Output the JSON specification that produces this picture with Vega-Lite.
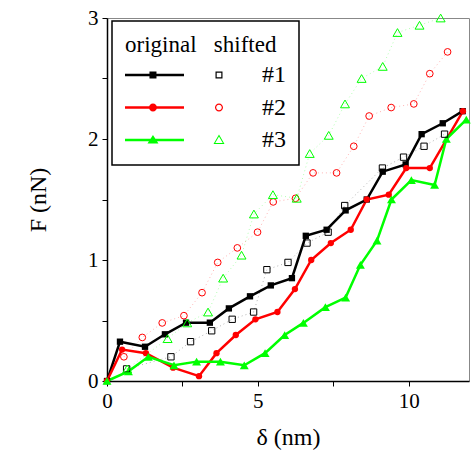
{
  "$schema": "https://vega.github.io/schema/vega-lite/v6.json",
  "width": 362,
  "height": 363,
  "autosize": "none",
  "padding": {"left": 107, "top": 18, "right": 7, "bottom": 73},
  "background": "white",
  "config": {
    "font": "Liberation Serif",
    "view": {"stroke": "#888888", "strokeWidth": 1},
    "axis": {
      "labelFont": "Liberation Serif", "labelFontSize": 21, "labelColor": "black",
      "titleFont": "Liberation Serif", "titleFontSize": 24, "titleFontWeight": "normal", "titleColor": "black",
      "domainColor": "black", "domainWidth": 1.5, "tickColor": "black", "tickSize": 5, "tickWidth": 1,
      "grid": false, "labelPadding": 4
    }
  },
  "data": {"values": [
    {"s":"#1","k":"o","x":0,"y":0},{"s":"#1","k":"o","x":0.43,"y":0.325},{"s":"#1","k":"o","x":1.26,"y":0.283},{"s":"#1","k":"o","x":1.92,"y":0.386},{"s":"#1","k":"o","x":2.62,"y":0.482},{"s":"#1","k":"o","x":3.41,"y":0.482},{"s":"#1","k":"o","x":4.04,"y":0.6},{"s":"#1","k":"o","x":4.74,"y":0.7},{"s":"#1","k":"o","x":5.43,"y":0.79},{"s":"#1","k":"o","x":6.13,"y":0.85},{"s":"#1","k":"o","x":6.59,"y":1.2},{"s":"#1","k":"o","x":7.28,"y":1.25},{"s":"#1","k":"o","x":7.91,"y":1.41},{"s":"#1","k":"o","x":8.61,"y":1.5},{"s":"#1","k":"o","x":9.14,"y":1.73},{"s":"#1","k":"o","x":9.9,"y":1.79},{"s":"#1","k":"o","x":10.43,"y":2.04},{"s":"#1","k":"o","x":11.13,"y":2.13},{"s":"#1","k":"o","x":11.79,"y":2.23},
    {"s":"#2","k":"o","x":0,"y":0},{"s":"#2","k":"o","x":0.5,"y":0.26},{"s":"#2","k":"o","x":1.29,"y":0.23},{"s":"#2","k":"o","x":2.19,"y":0.11},{"s":"#2","k":"o","x":3.05,"y":0.04},{"s":"#2","k":"o","x":3.63,"y":0.23},{"s":"#2","k":"o","x":4.27,"y":0.38},{"s":"#2","k":"o","x":4.92,"y":0.51},{"s":"#2","k":"o","x":5.65,"y":0.57},{"s":"#2","k":"o","x":6.23,"y":0.76},{"s":"#2","k":"o","x":6.77,"y":1.0},{"s":"#2","k":"o","x":7.42,"y":1.14},{"s":"#2","k":"o","x":8.08,"y":1.25},{"s":"#2","k":"o","x":8.61,"y":1.5},{"s":"#2","k":"o","x":9.34,"y":1.54},{"s":"#2","k":"o","x":9.92,"y":1.76},{"s":"#2","k":"o","x":10.7,"y":1.76},{"s":"#2","k":"o","x":11.8,"y":2.23},
    {"s":"#3","k":"o","x":0,"y":0},{"s":"#3","k":"o","x":0.71,"y":0.08},{"s":"#3","k":"o","x":1.37,"y":0.2},{"s":"#3","k":"o","x":2.22,"y":0.13},{"s":"#3","k":"o","x":2.97,"y":0.16},{"s":"#3","k":"o","x":3.76,"y":0.16},{"s":"#3","k":"o","x":4.55,"y":0.13},{"s":"#3","k":"o","x":5.24,"y":0.23},{"s":"#3","k":"o","x":5.89,"y":0.38},{"s":"#3","k":"o","x":6.51,"y":0.48},{"s":"#3","k":"o","x":7.24,"y":0.61},{"s":"#3","k":"o","x":7.91,"y":0.69},{"s":"#3","k":"o","x":8.4,"y":0.96},{"s":"#3","k":"o","x":8.95,"y":1.16},{"s":"#3","k":"o","x":9.43,"y":1.5},{"s":"#3","k":"o","x":10.09,"y":1.66},{"s":"#3","k":"o","x":10.86,"y":1.62},{"s":"#3","k":"o","x":11.25,"y":2.0},{"s":"#3","k":"o","x":11.91,"y":2.16},
    {"s":"#1","k":"s","x":0.65,"y":0.1},{"s":"#1","k":"s","x":2.12,"y":0.2},{"s":"#1","k":"s","x":2.77,"y":0.325},{"s":"#1","k":"s","x":3.47,"y":0.415},{"s":"#1","k":"s","x":4.15,"y":0.51},{"s":"#1","k":"s","x":4.86,"y":0.57},{"s":"#1","k":"s","x":5.3,"y":0.92},{"s":"#1","k":"s","x":6.0,"y":0.98},{"s":"#1","k":"s","x":6.63,"y":1.14},{"s":"#1","k":"s","x":7.33,"y":1.23},{"s":"#1","k":"s","x":7.88,"y":1.45},{"s":"#1","k":"s","x":9.13,"y":1.76},{"s":"#1","k":"s","x":9.83,"y":1.85},{"s":"#1","k":"s","x":10.51,"y":1.94},{"s":"#1","k":"s","x":11.19,"y":2.04},
    {"s":"#2","k":"s","x":0.56,"y":0.2},{"s":"#2","k":"s","x":1.17,"y":0.36},{"s":"#2","k":"s","x":1.83,"y":0.48},{"s":"#2","k":"s","x":2.55,"y":0.54},{"s":"#2","k":"s","x":3.15,"y":0.73},{"s":"#2","k":"s","x":3.67,"y":0.98},{"s":"#2","k":"s","x":4.32,"y":1.1},{"s":"#2","k":"s","x":4.99,"y":1.23},{"s":"#2","k":"s","x":5.51,"y":1.48},{"s":"#2","k":"s","x":6.25,"y":1.51},{"s":"#2","k":"s","x":6.83,"y":1.72},{"s":"#2","k":"s","x":7.61,"y":1.72},{"s":"#2","k":"s","x":8.18,"y":1.94},{"s":"#2","k":"s","x":8.69,"y":2.19},{"s":"#2","k":"s","x":9.42,"y":2.26},{"s":"#2","k":"s","x":10.17,"y":2.29},{"s":"#2","k":"s","x":10.7,"y":2.54},{"s":"#2","k":"s","x":11.29,"y":2.72},
    {"s":"#3","k":"s","x":0.67,"y":0.1},{"s":"#3","k":"s","x":2.01,"y":0.35},{"s":"#3","k":"s","x":2.66,"y":0.48},{"s":"#3","k":"s","x":3.35,"y":0.57},{"s":"#3","k":"s","x":3.85,"y":0.85},{"s":"#3","k":"s","x":4.46,"y":1.04},{"s":"#3","k":"s","x":4.87,"y":1.38},{"s":"#3","k":"s","x":5.5,"y":1.54},{"s":"#3","k":"s","x":6.29,"y":1.51},{"s":"#3","k":"s","x":6.72,"y":1.88},{"s":"#3","k":"s","x":7.35,"y":2.03},{"s":"#3","k":"s","x":7.89,"y":2.29},{"s":"#3","k":"s","x":8.44,"y":2.5},{"s":"#3","k":"s","x":9.14,"y":2.6},{"s":"#3","k":"s","x":9.63,"y":2.88},{"s":"#3","k":"s","x":10.36,"y":2.94},{"s":"#3","k":"s","x":11.06,"y":3.0}
  ]},
  "encoding": {
    "x": {"field": "x", "type": "quantitative", "title": "δ (nm)",
      "scale": {"domain": [0, 12], "nice": false},
      "axis": {"values": [0, 2.5, 5, 7.5, 10], "labelExpr": "datum.value % 5 === 0 ? format(datum.value, 'd') : ''", "titlePadding": 14, "labelFlush": false}},
    "y": {"field": "y", "type": "quantitative", "title": "F (nN)",
      "scale": {"domain": [0, 3], "nice": false},
      "axis": {"values": [0, 0.5, 1, 1.5, 2, 2.5, 3], "labelExpr": "datum.value % 1 === 0 ? format(datum.value, 'd') : ''", "titlePadding": 37, "labelFlush": false}},
    "color": {"field": "s", "type": "nominal", "title": "original\u00a0\u00a0 shifted",
      "scale": {"domain": ["#1", "#2", "#3"], "range": ["black", "#ff0000", "#00ff00"]},
      "legend": {
        "orient": "none", "legendX": 5, "legendY": 3, "padding": 13,
        "strokeColor": "black", "fillColor": "white",
        "symbolSize": 15876, "symbolOffset": 0, "labelOffset": 11, "rowPadding": 8.5, "titlePadding": 6,
        "clipHeight": 24,
        "labelFont": "Liberation Serif", "labelFontSize": 24, "labelColor": "black",
        "titleFont": "Liberation Serif", "titleFontSize": 23, "titleFontWeight": "normal", "titleColor": "black",
        "encode": {
          "legend": {"update": {"strokeWidth": {"value": 1.5}}},
          "symbols": {"update": {
            "shape": {"signal": "datum.value === '#1' ? 'M-1,-0.0198H-0.0635V0.0198H-1ZM-0.6116,-0.0556H-0.5004V0.0556H-0.6116ZM0.4364,-0.0556H0.5476V0.0556H0.4364ZM0.4555,-0.0365V0.0365H0.5285V-0.0365Z' : datum.value === '#2' ? 'M-1,-0.0198H-0.0635V0.0198H-1ZM-0.6195,0A0.0635,0.0635,0,1,1,-0.4925,0A0.0635,0.0635,0,1,1,-0.6195,0ZM0.4285,0A0.0635,0.0635,0,1,1,0.5555,0A0.0635,0.0635,0,1,1,0.4285,0ZM0.4476,0A0.0444,0.0444,0,1,0,0.5364,0A0.0444,0.0444,0,1,0,0.4476,0Z' : 'M-1,-0.0198H-0.0635V0.0198H-1ZM-0.556,-0.0794L-0.4687,0.0556L-0.6433,0.0556ZM0.492,-0.0873L0.5793,0.0635L0.4047,0.0635ZM0.492,-0.0556L0.4317,0.0476L0.5523,0.0476Z'"},
            "size": {"value": 15876},
            "fill": {"scale": "color", "field": "value"},
            "fillOpacity": {"value": 1},
            "opacity": {"value": 1},
            "strokeWidth": {"value": 0},
            "strokeOpacity": {"value": 0}
          }}
        }
      }}
  },
  "layer": [
    {"transform": [{"filter": "datum.k === 's'"}],
     "mark": {"type": "line", "strokeWidth": 1, "strokeDash": [1, 3], "opacity": 0.3},
     "encoding": {"detail": {"field": "s"}}},
    {"transform": [{"filter": "datum.k === 'o'"}],
     "mark": {"type": "line", "strokeWidth": 2.5},
     "encoding": {"detail": {"field": "s"}}},
    {"transform": [{"filter": "datum.k === 'o'"}],
     "mark": {"type": "point", "filled": true, "opacity": 1, "clip": false},
     "encoding": {
       "shape": {"condition": [{"test": "datum.s === '#1'", "value": "square"}, {"test": "datum.s === '#2'", "value": "circle"}], "value": "triangle-up"},
       "size": {"condition": [{"test": "datum.s === '#3'", "value": 80}], "value": 40}}},
    {"transform": [{"filter": "datum.k === 's'"}],
     "mark": {"type": "point", "filled": false, "strokeWidth": 1, "opacity": 1, "clip": false},
     "encoding": {
       "shape": {"condition": [{"test": "datum.s === '#1'", "value": "square"}, {"test": "datum.s === '#2'", "value": "circle"}], "value": "triangle-up"},
       "size": {"condition": [{"test": "datum.s === '#3'", "value": 80}, {"test": "datum.s === '#2'", "value": 45}], "value": 40}}}
  ]
}
